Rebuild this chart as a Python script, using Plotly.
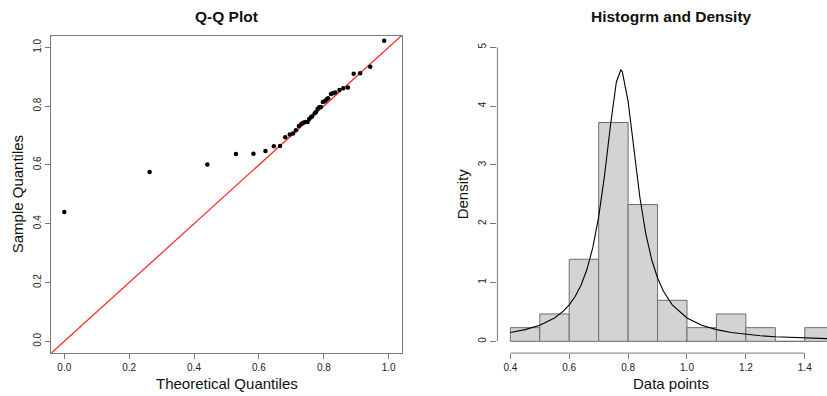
import plotly.graph_objects as go

# ---------------- data ----------------
# Q-Q plot points (theoretical, sample)
qq_theoretical = [0.000, 0.263, 0.441, 0.529, 0.583, 0.620, 0.646, 0.665, 0.681, 0.695,
                  0.705, 0.714, 0.723, 0.731, 0.738, 0.744, 0.750, 0.755, 0.760, 0.764,
                  0.772, 0.776, 0.781, 0.786, 0.791, 0.797, 0.803, 0.808, 0.813, 0.822,
                  0.828, 0.835, 0.848, 0.860, 0.874, 0.892, 0.912, 0.943, 0.986]
qq_sample = [0.440, 0.576, 0.601, 0.637, 0.638, 0.647, 0.663, 0.664, 0.694, 0.703,
             0.707, 0.718, 0.732, 0.740, 0.744, 0.746, 0.746, 0.756, 0.762, 0.765,
             0.776, 0.780, 0.791, 0.796, 0.797, 0.814, 0.816, 0.822, 0.827, 0.841,
             0.844, 0.846, 0.855, 0.861, 0.863, 0.910, 0.912, 0.934, 1.022]

# Histogram: bin edges and counts
bin_edges = [0.4, 0.5, 0.6, 0.7, 0.8, 0.9, 1.0, 1.1, 1.2, 1.3, 1.4, 1.5]
bin_counts = [1, 2, 6, 16, 10, 3, 1, 2, 1, 0, 1]

# Density curve
dens_x = [0.40, 0.45, 0.50, 0.55, 0.58, 0.60, 0.62, 0.64, 0.66, 0.68, 0.70, 0.72,
          0.74, 0.76, 0.775, 0.78, 0.80, 0.82, 0.84, 0.86, 0.88, 0.90, 0.92, 0.95,
          1.00, 1.05, 1.10, 1.15, 1.20, 1.25, 1.30, 1.35, 1.40, 1.45, 1.50]
dens_y = [0.151, 0.199, 0.273, 0.397, 0.513, 0.621, 0.763, 0.955, 1.221, 1.593, 2.115, 2.821,
          3.670, 4.406, 4.613, 4.590, 4.079, 3.237, 2.445, 1.832, 1.391, 1.077, 0.852, 0.621,
          0.397, 0.273, 0.199, 0.151, 0.118, 0.095, 0.078, 0.065, 0.056, 0.048, 0.041]

qq_ticks = [0.0, 0.2, 0.4, 0.6, 0.8, 1.0]
hist_xticks = [0.4, 0.6, 0.8, 1.0, 1.2, 1.4]
hist_yticks = [0, 1, 2, 3, 4, 5]

# ---------------- derived ----------------
n_obs = sum(bin_counts)
bin_width = [bin_edges[i + 1] - bin_edges[i] for i in range(len(bin_counts))]
bin_mid = [(bin_edges[i] + bin_edges[i + 1]) / 2 for i in range(len(bin_counts))]
bin_density = [c / (n_obs * w) for c, w in zip(bin_counts, bin_width)]

W, H = 827, 396
FONT = "Liberation Sans, Arial, sans-serif"
AX = "#7a7a7a"
TXT = "#222222"

qq_range = [-0.04, 1.04]

def px_x(p):
    return p / W

def px_y(p):
    return 1 - p / H

fig = go.Figure()

# Q-Q reference line
fig.add_trace(go.Scatter(x=qq_range, y=qq_range, mode="lines",
                         line=dict(color="#ff2020", width=1.2),
                         xaxis="x", yaxis="y", showlegend=False, hoverinfo="skip"))
# Q-Q points
fig.add_trace(go.Scatter(x=qq_theoretical, y=qq_sample, mode="markers",
                         marker=dict(color="black", size=4.5),
                         xaxis="x", yaxis="y", showlegend=False))

# Histogram bars
fig.add_trace(go.Bar(x=bin_mid, y=bin_density, width=bin_width,
                     marker=dict(color="#d3d3d3", line=dict(color="#6e6e6e", width=1)),
                     xaxis="x2", yaxis="y2", showlegend=False))
# Density curve
fig.add_trace(go.Scatter(x=dens_x, y=dens_y, mode="lines",
                         line=dict(color="black", width=1.1),
                         xaxis="x2", yaxis="y2", showlegend=False))

ydom = [px_y(353.1), px_y(35.5)]
tickfont = dict(family=FONT, size=10, color=TXT)

common = dict(automargin=False, showgrid=False, zeroline=False, tickfont=tickfont,
              ticks="outside", tickcolor=AX)

fig.update_layout(
    width=W, height=H,
    margin=dict(l=0, r=0, t=0, b=0),
    paper_bgcolor="white", plot_bgcolor="white",
    font=dict(family=FONT, color=TXT),
    bargap=0,
    xaxis=dict(domain=[px_x(51.3), px_x(401.7)], range=qq_range, anchor="y",
               tickvals=qq_ticks, tickformat=".1f", ticklen=5,
               showline=True, mirror=True, linecolor=AX, linewidth=1, **common),
    yaxis=dict(domain=ydom, range=qq_range, anchor="x",
               tickvals=qq_ticks, tickformat=".1f", ticklen=5,
               showline=True, mirror=True, linecolor=AX, linewidth=1,
               tickangle=-90, **common),
    xaxis2=dict(domain=[px_x(497.4), 1.0], range=[0.356, 1.4756], anchor="y2",
                tickvals=hist_xticks, tickformat=".1f", ticklen=5,
                showline=False, **common),
    yaxis2=dict(domain=ydom, range=[-0.2, 5.2], anchor="x2",
                tickvals=hist_yticks, ticklen=6,
                showline=False, tickangle=-90, **common),
)

# R-style axis lines for the histogram (span first to last tick)
fig.add_shape(type="line", xref="x2", yref="paper",
              x0=hist_xticks[0], x1=hist_xticks[-1], y0=ydom[0], y1=ydom[0],
              line=dict(color=AX, width=1))
fig.add_shape(type="line", xref="paper", yref="y2",
              x0=px_x(497.4), x1=px_x(497.4), y0=hist_yticks[0], y1=hist_yticks[-1],
              line=dict(color=AX, width=1))

def ann(text, x, y, size, bold=False, angle=0):
    fig.add_annotation(text=f"<b>{text}</b>" if bold else text,
                       x=px_x(x), y=px_y(y), xref="paper", yref="paper",
                       xanchor="center", yanchor="middle", showarrow=False,
                       textangle=angle, font=dict(family=FONT, size=size, color="#111"))

ann("Q-Q Plot", 226.5, 16.5, 15.5, bold=True)
ann("Histogrm and Density", 671, 16.5, 15.5, bold=True)
ann("Theoretical Quantiles", 226.5, 383, 15)
ann("Sample Quantiles", 17, 194.3, 15, angle=-90)
ann("Data points", 671, 383, 15)
ann("Density", 462, 194.3, 15, angle=-90)

fig.write_html("out.html",
               config={"displayModeBar": False, "staticPlot": True},
               post_script="document.body.style.margin='0px';document.body.style.overflow='hidden';")
